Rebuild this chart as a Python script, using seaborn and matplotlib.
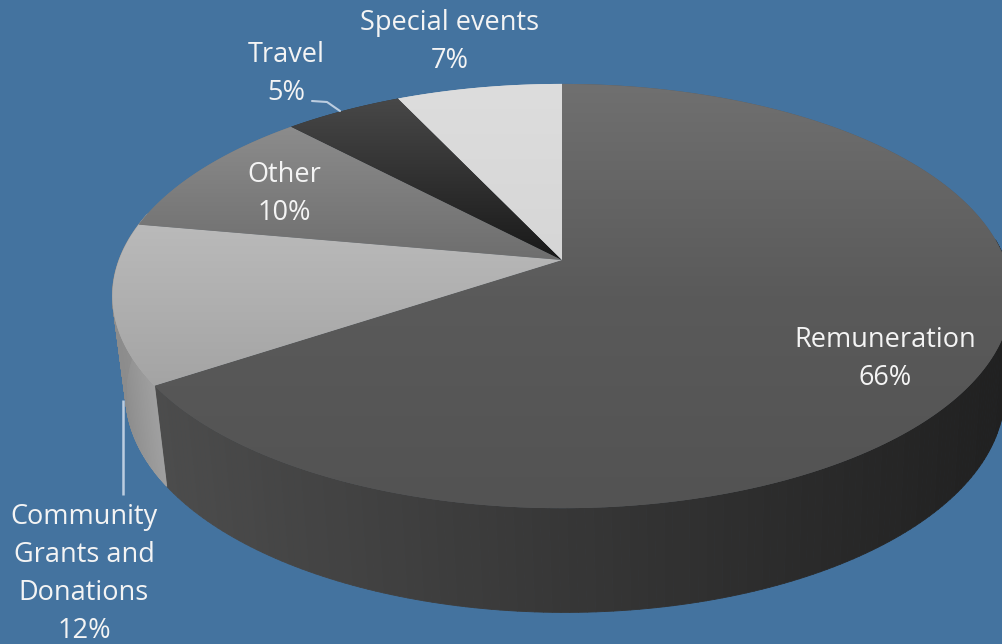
import numpy as np
import matplotlib
matplotlib.use("Agg")
import matplotlib.pyplot as plt
from matplotlib.collections import PolyCollection
from matplotlib.patches import Polygon
import seaborn as sns

# Budget shares, clockwise from twelve o'clock
categories = ["Remuneration", "Community\nGrants and\nDonations", "Other", "Travel", "Special events"]
shares = [66, 12, 10, 5, 7]

# Vertical shading of each slice's top face, from upper to lower colour
top_shades = [("#707070", "#5a5a5a", "#535353"), ("#bababa", "#a4a4a4"), ("#8c8c8c", "#6e6e6e"),
              ("#484848", "#191919"), ("#dddddd", "#d6d6d6")]
# Horizontal shading of the rim (left colour, right colour)
rim_shades = [("#4c4c4c", "#202020"), ("#8c8c8c", "#a0a0a0")]

label_centres = [(885, 359), (84, 574), (284, 194), (286, 74), (450, 42)]

BACKGROUND = "#44739f"
LEADER = "#bccde0"
TEXT = "#f4f4f4"

sns.set_theme(style="white", rc={"figure.facecolor": BACKGROUND, "axes.facecolor": BACKGROUND})
plt.rcParams["font.family"] = ["Open Sans", "DejaVu Sans"]

W, H = 1003, 644
fig = plt.figure(figsize=(W / 100, H / 100), dpi=100)
ax = fig.add_axes([0, 0, 1, 1])
ax.set_xlim(0, W)
ax.set_ylim(H, 0)
ax.axis("off")

TILT = 0.17
SKEW = np.radians(1.5)


def project(theta, cx=562.0, cy=260.0, bx=443.0, by=206.0):
    """Perspective view of a disc, theta measured clockwise from the far edge."""
    theta = theta - SKEW * np.sin(theta / 2) ** 2
    u, v = np.sin(theta), np.cos(theta)
    d = 1 + TILT * v
    return cx + bx * u / d, cy - by * v / d


def rim_xy(theta):
    return project(theta, cx=565.0, cy=357.0, bx=433.0, by=212.0)


edges = 2 * np.pi * np.cumsum([0] + shares) / sum(shares)

# Rim: narrow quads swept along the near side of the disc
rim_spans = [(np.radians(85), edges[1]), (edges[1], np.radians(284))]
for (a0, a1), (left, right) in zip(rim_spans, rim_shades):
    t = np.linspace(a0, a1, 160)
    xt, yt = project(t)
    xb, yb = rim_xy(t)
    quads = [[(xt[i], yt[i]), (xt[i + 1], yt[i + 1]), (xb[i + 1], yb[i + 1]), (xb[i], yb[i])]
             for i in range(len(t) - 1)]
    cmap = sns.blend_palette([left, right], n_colors=64, as_cmap=True)
    mid = (xt[:-1] + xb[:-1]) / 2
    pos = (mid - mid.min()) / (mid.max() - mid.min())
    ax.add_collection(PolyCollection(quads, facecolors=cmap(pos), edgecolors=cmap(pos), linewidths=0.6))

# Top faces: a flat polygon underneath keeps the edges smooth, the gradient sits on it
for a0, a1, shades in zip(edges[:-1], edges[1:], top_shades):
    t = np.linspace(a0, a1, 240)
    x, y = project(t)
    px = np.r_[562.0, x]
    py = np.r_[260.0, y]
    mid_colour = sns.blend_palette(shades, n_colors=3)[1]
    verts = np.c_[px, py]
    ax.add_patch(Polygon(verts, closed=True, facecolor=mid_colour, edgecolor="none", zorder=2))
    clip = Polygon(verts, closed=True, transform=ax.transData)
    cmap = sns.blend_palette(shades, n_colors=128, as_cmap=True)
    img = ax.imshow(np.linspace(0, 1, 256)[:, None], cmap=cmap, aspect="auto", zorder=3,
                    extent=(px.min(), px.max(), py.max(), py.min()), interpolation="bilinear")
    img.set_clip_path(clip)
ax.set_xlim(0, W)
ax.set_ylim(H, 0)

# Leader lines for the two labels placed off their slices
ax.plot([312, 327, 340], [101, 102, 111], color=LEADER, lw=1.5, zorder=4)
ax.plot([123, 123], [400, 495], color=LEADER, lw=1.8, zorder=4, solid_capstyle="butt")

for name, share, (lx, ly) in zip(categories, shares, label_centres):
    ax.text(lx, ly, f"{name}\n{share}%", ha="center", va="center", color=TEXT,
            fontsize=19.5, linespacing=1.47, zorder=5)

fig.savefig("out.png", dpi=100, facecolor=BACKGROUND)
